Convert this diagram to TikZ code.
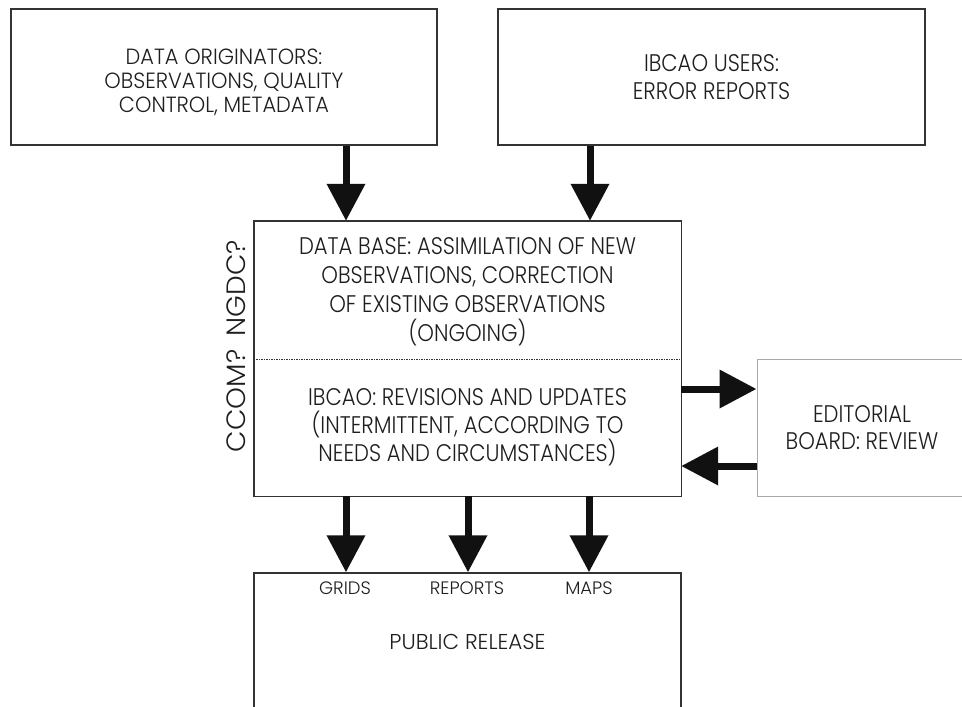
\documentclass[tikz,border=0pt]{standalone}
\usepackage{fontspec}
\setmainfont{Poppins}[UprightFont=* Light]
\newfontfamily\condfont{Poppins}[UprightFont=* Light,FakeStretch=0.88]
\newfontfamily\semifont{Poppins}[UprightFont=* Light,FakeStretch=0.95]
\newfontfamily\widefont{Poppins}[UprightFont=* Light,FakeStretch=1.05]
\usetikzlibrary{arrows.meta}
\definecolor{boxgray}{HTML}{333333}
\definecolor{litegray}{HTML}{AAAAAA}
\definecolor{txt}{HTML}{1E1E1E}
\definecolor{arrowblk}{HTML}{111111}
\begin{document}
\begin{tikzpicture}[x=1pt,y=-1pt,
  box/.style={draw=boxgray,line width=1.4pt,inner sep=0pt,align=center,text=txt},
  plain/.style={inner sep=0pt,align=center,text=txt},
  bigarrow/.style={draw=arrowblk,line width=7pt,-{Triangle[width=37pt,length=37pt]},fill=arrowblk},
  bodyfont/.style={font=\condfont\fontsize{24}{#1}\selectfont},
  sidefont/.style={font=\widefont\fontsize{26.5}{30}\selectfont},
  smallfont/.style={font=\fontsize{18}{20}\selectfont},
]
\useasboundingbox (0,0) rectangle (962,707);
\fill[white] (0,0) rectangle (962,707);

% top boxes
\node[box,minimum width=426pt,minimum height=136pt] (orig) at (224,77) {};
\node[plain,font=\semifont\fontsize{22}{24}\selectfont] (origtxt) at (224,82)
  {DATA ORIGINATORS:\\OBSERVATIONS, QUALITY\\CONTROL, METADATA};
\node[box,minimum width=427pt,minimum height=136pt,bodyfont=28] (users) at (711.5,77)
  {IBCAO USERS:\\ERROR REPORTS};

% middle box halves
\node[plain,minimum width=427pt,minimum height=138pt] (db) at (467.5,290) {};
\node[plain,bodyfont=29] (dbtxt) at (467.5,291.5)
  {DATA BASE: ASSIMILATION OF NEW\\OBSERVATIONS, CORRECTION\\OF EXISTING OBSERVATIONS\\(ONGOING)};
\node[plain,minimum width=427pt,minimum height=137pt,bodyfont=28] (ib) at (467.5,427.5)
  {IBCAO: REVISIONS AND UPDATES\\(INTERMITTENT, ACCORDING TO\\NEEDS AND CIRCUMSTANCES)};
\draw[boxgray,line width=1.4pt] (db.north west) rectangle (ib.south east);
\draw[boxgray,line width=0.8pt,dash pattern=on 1.5pt off 1pt] (db.south west) -- (db.south east);

% side labels
\node[plain,rotate=90,sidefont] (ngdc) at (236,288) {NGDC?};
\node[plain,rotate=90,sidefont] (ccom) at (236,401) {CCOM?};

% editorial board
\node[draw=litegray,line width=1pt,inner sep=0pt,align=center,text=txt,
  minimum width=210pt,minimum height=137pt,bodyfont=27] (ed) at (862,427.5)
  {EDITORIAL\\BOARD: REVIEW};

% public release
\node[box,minimum width=427pt,minimum height=150pt] (pub) at (467.5,648) {};
\node[plain,font=\fontsize{21.5}{24}\selectfont] (pubtxt) at (467.5,642) {PUBLIC RELEASE};

% coordinates for arrow positions
\coordinate (c1) at (346,0);
\coordinate (c2) at (590,0);
\coordinate (b1) at (346,0);
\coordinate (b2) at (468,0);
\coordinate (b3) at (589,0);
\coordinate (r1) at (0,389);
\coordinate (r2) at (0,466);

% arrows
\draw[bigarrow] (orig.south -| c1) -- (db.north -| c1);
\draw[bigarrow] (users.south -| c2) -- (db.north -| c2);
\draw[bigarrow] (ib.east |- r1) -- (ed.west |- r1);
\draw[bigarrow] (ed.west |- r2) -- (ib.east |- r2);
\draw[bigarrow] (ib.south -| b1) -- (pub.north -| b1);
\draw[bigarrow] (ib.south -| b2) -- (pub.north -| b2);
\draw[bigarrow] (ib.south -| b3) -- (pub.north -| b3);

% output labels
\node[plain,smallfont] (grids) at (345,588) {GRIDS};
\node[plain,smallfont] (reports) at (467,588) {REPORTS};
\node[plain,smallfont] (maps) at (589,588) {MAPS};
\end{tikzpicture}
\end{document}
